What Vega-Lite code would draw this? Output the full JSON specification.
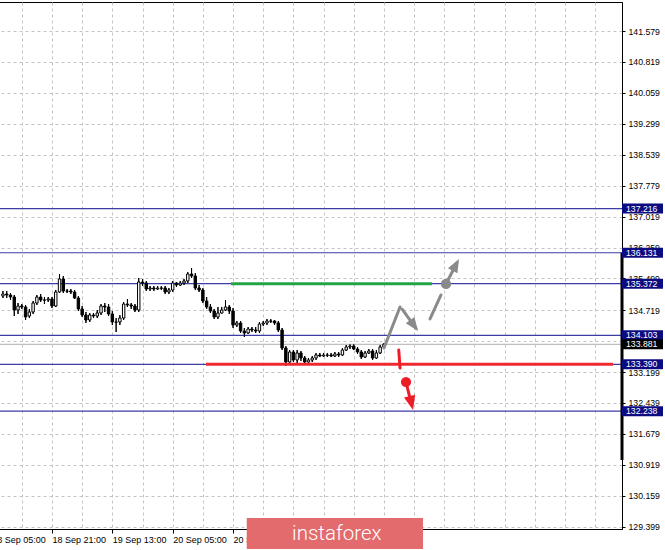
{
  "$schema": "https://vega.github.io/schema/vega-lite/v6.json",
  "width": 632,
  "height": 527,
  "autosize": {"type": "none"},
  "padding": {"left": -10, "top": 2, "right": 43, "bottom": 21},
  "background": "white",
  "config": {
    "view": {"stroke": "black", "strokeWidth": 1},
    "axis": {"titleOpacity": 0, "domainColor": "black", "tickColor": "black", "labelColor": "black", "labelOverlap": false}
  },
  "datasets": {
    "candles": [
      {"t":"2017-09-18T08:00Z","open":135.068,"high":135.191,"low":135.019,"close":135.117},
      {"t":"2017-09-18T09:00Z","open":135.117,"high":135.191,"low":135.019,"close":135.093},
      {"t":"2017-09-18T10:00Z","open":135.093,"high":135.142,"low":134.970,"close":135.043},
      {"t":"2017-09-18T11:00Z","open":135.043,"high":135.093,"low":134.577,"close":134.724},
      {"t":"2017-09-18T12:00Z","open":134.724,"high":134.896,"low":134.626,"close":134.822},
      {"t":"2017-09-18T13:00Z","open":134.822,"high":134.871,"low":134.749,"close":134.798},
      {"t":"2017-09-18T14:00Z","open":134.798,"high":134.847,"low":134.478,"close":134.552},
      {"t":"2017-09-18T15:00Z","open":134.577,"high":134.749,"low":134.527,"close":134.675},
      {"t":"2017-09-18T16:00Z","open":134.675,"high":134.945,"low":134.626,"close":134.896},
      {"t":"2017-09-18T17:00Z","open":134.896,"high":135.093,"low":134.847,"close":135.043},
      {"t":"2017-09-18T18:00Z","open":135.043,"high":135.117,"low":134.921,"close":134.970},
      {"t":"2017-09-18T19:00Z","open":134.970,"high":135.043,"low":134.871,"close":134.965},
      {"t":"2017-09-18T20:00Z","open":134.970,"high":135.043,"low":134.921,"close":134.994},
      {"t":"2017-09-18T21:00Z","open":134.994,"high":135.043,"low":134.773,"close":134.822},
      {"t":"2017-09-18T22:00Z","open":134.822,"high":135.215,"low":134.798,"close":135.166},
      {"t":"2017-09-18T23:00Z","open":135.166,"high":135.609,"low":135.142,"close":135.486},
      {"t":"2017-09-19T00:00Z","open":135.486,"high":135.559,"low":135.142,"close":135.191},
      {"t":"2017-09-19T01:00Z","open":135.191,"high":135.240,"low":135.142,"close":135.186},
      {"t":"2017-09-19T02:00Z","open":135.191,"high":135.240,"low":135.117,"close":135.166},
      {"t":"2017-09-19T03:00Z","open":135.166,"high":135.215,"low":134.994,"close":135.019},
      {"t":"2017-09-19T04:00Z","open":135.019,"high":135.068,"low":134.699,"close":134.749},
      {"t":"2017-09-19T05:00Z","open":134.749,"high":134.822,"low":134.552,"close":134.601},
      {"t":"2017-09-19T06:00Z","open":134.601,"high":134.675,"low":134.405,"close":134.478},
      {"t":"2017-09-19T07:00Z","open":134.478,"high":134.650,"low":134.429,"close":134.601},
      {"t":"2017-09-19T08:00Z","open":134.601,"high":134.650,"low":134.527,"close":134.577},
      {"t":"2017-09-19T09:00Z","open":134.577,"high":134.724,"low":134.527,"close":134.650},
      {"t":"2017-09-19T10:00Z","open":134.650,"high":134.871,"low":134.601,"close":134.822},
      {"t":"2017-09-19T11:00Z","open":134.822,"high":134.896,"low":134.675,"close":134.798},
      {"t":"2017-09-19T12:00Z","open":134.798,"high":134.871,"low":134.577,"close":134.626},
      {"t":"2017-09-19T13:00Z","open":134.626,"high":134.699,"low":134.355,"close":134.429},
      {"t":"2017-09-19T14:00Z","open":134.429,"high":134.527,"low":134.183,"close":134.424},
      {"t":"2017-09-19T15:00Z","open":134.429,"high":134.601,"low":134.355,"close":134.527},
      {"t":"2017-09-19T16:00Z","open":134.527,"high":134.921,"low":134.478,"close":134.871},
      {"t":"2017-09-19T17:00Z","open":134.871,"high":134.994,"low":134.798,"close":134.847},
      {"t":"2017-09-19T18:00Z","open":134.847,"high":134.896,"low":134.749,"close":134.822},
      {"t":"2017-09-19T19:00Z","open":134.822,"high":134.871,"low":134.675,"close":134.724},
      {"t":"2017-09-19T20:00Z","open":134.724,"high":135.510,"low":134.675,"close":135.412},
      {"t":"2017-09-19T21:00Z","open":135.412,"high":135.486,"low":135.314,"close":135.387},
      {"t":"2017-09-19T22:00Z","open":135.387,"high":135.437,"low":135.191,"close":135.240},
      {"t":"2017-09-19T23:00Z","open":135.240,"high":135.314,"low":135.191,"close":135.265},
      {"t":"2017-09-20T00:00Z","open":135.265,"high":135.314,"low":135.191,"close":135.240},
      {"t":"2017-09-20T01:00Z","open":135.240,"high":135.314,"low":135.215,"close":135.265},
      {"t":"2017-09-20T02:00Z","open":135.265,"high":135.314,"low":135.215,"close":135.260},
      {"t":"2017-09-20T03:00Z","open":135.265,"high":135.314,"low":135.117,"close":135.166},
      {"t":"2017-09-20T04:00Z","open":135.166,"high":135.265,"low":135.117,"close":135.215},
      {"t":"2017-09-20T05:00Z","open":135.215,"high":135.437,"low":135.166,"close":135.387},
      {"t":"2017-09-20T06:00Z","open":135.387,"high":135.412,"low":135.289,"close":135.338},
      {"t":"2017-09-20T07:00Z","open":135.338,"high":135.437,"low":135.314,"close":135.387},
      {"t":"2017-09-20T08:00Z","open":135.387,"high":135.486,"low":135.338,"close":135.437},
      {"t":"2017-09-20T09:00Z","open":135.437,"high":135.658,"low":135.387,"close":135.609},
      {"t":"2017-09-20T10:00Z","open":135.609,"high":135.756,"low":135.510,"close":135.559},
      {"t":"2017-09-20T11:00Z","open":135.559,"high":135.633,"low":135.215,"close":135.265},
      {"t":"2017-09-20T12:00Z","open":135.265,"high":135.338,"low":135.166,"close":135.215},
      {"t":"2017-09-20T13:00Z","open":135.215,"high":135.265,"low":134.896,"close":134.945},
      {"t":"2017-09-20T14:00Z","open":134.945,"high":135.043,"low":134.749,"close":134.798},
      {"t":"2017-09-20T15:00Z","open":134.798,"high":134.871,"low":134.650,"close":134.699},
      {"t":"2017-09-20T16:00Z","open":134.699,"high":134.749,"low":134.503,"close":134.552},
      {"t":"2017-09-20T17:00Z","open":134.552,"high":134.798,"low":134.503,"close":134.650},
      {"t":"2017-09-20T18:00Z","open":134.650,"high":134.798,"low":134.640,"close":134.724},
      {"t":"2017-09-20T19:00Z","open":134.724,"high":134.970,"low":134.699,"close":134.798},
      {"t":"2017-09-20T20:00Z","open":134.798,"high":134.847,"low":134.626,"close":134.699},
      {"t":"2017-09-20T21:00Z","open":134.699,"high":134.773,"low":134.282,"close":134.355},
      {"t":"2017-09-20T22:00Z","open":134.355,"high":134.454,"low":134.306,"close":134.405},
      {"t":"2017-09-20T23:00Z","open":134.405,"high":134.454,"low":134.159,"close":134.208},
      {"t":"2017-09-21T00:00Z","open":134.208,"high":134.282,"low":134.061,"close":134.159},
      {"t":"2017-09-21T01:00Z","open":134.159,"high":134.306,"low":134.134,"close":134.257},
      {"t":"2017-09-21T02:00Z","open":134.257,"high":134.306,"low":134.183,"close":134.233},
      {"t":"2017-09-21T03:00Z","open":134.233,"high":134.306,"low":134.159,"close":134.208},
      {"t":"2017-09-21T04:00Z","open":134.208,"high":134.429,"low":134.159,"close":134.380},
      {"t":"2017-09-21T05:00Z","open":134.380,"high":134.454,"low":134.331,"close":134.405},
      {"t":"2017-09-21T06:00Z","open":134.405,"high":134.503,"low":134.355,"close":134.454},
      {"t":"2017-09-21T07:00Z","open":134.454,"high":134.503,"low":134.405,"close":134.449},
      {"t":"2017-09-21T08:00Z","open":134.454,"high":134.478,"low":134.355,"close":134.405},
      {"t":"2017-09-21T09:00Z","open":134.405,"high":134.454,"low":134.183,"close":134.233},
      {"t":"2017-09-21T10:00Z","open":134.233,"high":134.282,"low":133.741,"close":133.790},
      {"t":"2017-09-21T11:00Z","open":133.790,"high":133.839,"low":133.348,"close":133.446},
      {"t":"2017-09-21T12:00Z","open":133.446,"high":133.741,"low":133.397,"close":133.692},
      {"t":"2017-09-21T13:00Z","open":133.692,"high":133.741,"low":133.446,"close":133.496},
      {"t":"2017-09-21T14:00Z","open":133.496,"high":133.741,"low":133.422,"close":133.668},
      {"t":"2017-09-21T15:00Z","open":133.668,"high":133.717,"low":133.471,"close":133.545},
      {"t":"2017-09-21T16:00Z","open":133.545,"high":133.594,"low":133.397,"close":133.446},
      {"t":"2017-09-21T17:00Z","open":133.446,"high":133.545,"low":133.397,"close":133.496},
      {"t":"2017-09-21T18:00Z","open":133.496,"high":133.594,"low":133.446,"close":133.545},
      {"t":"2017-09-21T19:00Z","open":133.545,"high":133.668,"low":133.496,"close":133.618},
      {"t":"2017-09-21T20:00Z","open":133.618,"high":133.668,"low":133.569,"close":133.594},
      {"t":"2017-09-21T21:00Z","open":133.594,"high":133.668,"low":133.569,"close":133.618},
      {"t":"2017-09-21T22:00Z","open":133.618,"high":133.668,"low":133.569,"close":133.613},
      {"t":"2017-09-21T23:00Z","open":133.618,"high":133.668,"low":133.569,"close":133.594},
      {"t":"2017-09-22T00:00Z","open":133.594,"high":133.692,"low":133.569,"close":133.643},
      {"t":"2017-09-22T01:00Z","open":133.643,"high":133.692,"low":133.569,"close":133.618},
      {"t":"2017-09-22T02:00Z","open":133.618,"high":133.790,"low":133.594,"close":133.741},
      {"t":"2017-09-22T03:00Z","open":133.741,"high":133.864,"low":133.717,"close":133.815},
      {"t":"2017-09-22T04:00Z","open":133.815,"high":133.889,"low":133.766,"close":133.839},
      {"t":"2017-09-22T05:00Z","open":133.839,"high":133.889,"low":133.741,"close":133.766},
      {"t":"2017-09-22T06:00Z","open":133.766,"high":133.815,"low":133.643,"close":133.692},
      {"t":"2017-09-22T07:00Z","open":133.692,"high":133.741,"low":133.520,"close":133.569},
      {"t":"2017-09-22T08:00Z","open":133.569,"high":133.717,"low":133.545,"close":133.668},
      {"t":"2017-09-22T09:00Z","open":133.668,"high":133.766,"low":133.643,"close":133.717},
      {"t":"2017-09-22T10:00Z","open":133.717,"high":133.766,"low":133.496,"close":133.545},
      {"t":"2017-09-22T11:00Z","open":133.545,"high":133.741,"low":133.520,"close":133.668},
      {"t":"2017-09-22T12:00Z","open":133.668,"high":133.864,"low":133.643,"close":133.815},
      {"t":"2017-09-22T13:00Z","open":133.815,"high":133.913,"low":133.790,"close":133.881}
    ],
    "levels": [
      {"price":137.216,"type":"level"},
      {"price":136.131,"type":"level"},
      {"price":135.372,"type":"level"},
      {"price":134.103,"type":"level"},
      {"price":133.390,"type":"level"},
      {"price":132.238,"type":"level"},
      {"price":133.881,"type":"bid"}
    ],
    "plan": [
      {"t1":"2017-09-20T20:28Z","t2":"2017-09-23T01:44Z","price":135.372,"side":"buy"},
      {"t1":"2017-09-20T13:50Z","t2":"2017-09-25T01:44Z","price":133.390,"side":"sell"}
    ],
    "shafts": [
      {"t1":"2017-09-22T13:01Z","p1":133.790,"t2":"2017-09-22T17:16Z","p2":134.798,"group":"up"},
      {"t1":"2017-09-22T17:47Z","p1":134.749,"t2":"2017-09-22T21:30Z","p2":134.270,"group":"up"},
      {"t1":"2017-09-23T01:13Z","p1":134.503,"t2":"2017-09-23T04:08Z","p2":135.093,"group":"up"},
      {"t1":"2017-09-23T05:27Z","p1":135.363,"t2":"2017-09-23T08:20Z","p2":135.880,"group":"up"},
      {"t1":"2017-09-22T16:56Z","p1":133.741,"t2":"2017-09-22T17:16Z","p2":133.299,"group":"down"},
      {"t1":"2017-09-22T18:51Z","p1":132.955,"t2":"2017-09-22T20:20Z","p2":132.400,"group":"down"}
    ],
    "dots": [
      {"t":"2017-09-23T05:27Z","price":135.363,"group":"up"},
      {"t":"2017-09-22T18:51Z","price":132.955,"group":"down"}
    ],
    "tips": [
      {"t":"2017-09-22T22:02Z","price":134.208,"id":"a"},
      {"t":"2017-09-23T08:54Z","price":135.977,"id":"b"},
      {"t":"2017-09-22T20:43Z","price":132.267,"id":"c"}
    ]
  },
  "layer": [
    {
      "data": {"name": "candles"},
      "mark": {"type": "rule", "color": "black", "strokeWidth": 1},
      "encoding": {
        "x": {
          "field": "t", "type": "temporal", "title": null,
          "scale": {"type": "utc", "padding": 0, "domain": [
            {"year": 2017, "month": 9, "date": 18, "hours": 4, "minutes": 34, "utc": true},
            {"year": 2017, "month": 9, "date": 25, "hours": 4, "minutes": 7, "utc": true}
          ]},
          "axis": {
            "values": [
              {"year":2017,"month":9,"date":18,"hours":5,"utc":true},
              {"year":2017,"month":9,"date":18,"hours":13,"utc":true},
              {"year":2017,"month":9,"date":18,"hours":21,"utc":true},
              {"year":2017,"month":9,"date":19,"hours":5,"utc":true},
              {"year":2017,"month":9,"date":19,"hours":13,"utc":true},
              {"year":2017,"month":9,"date":19,"hours":21,"utc":true},
              {"year":2017,"month":9,"date":20,"hours":5,"utc":true},
              {"year":2017,"month":9,"date":20,"hours":13,"utc":true},
              {"year":2017,"month":9,"date":20,"hours":21,"utc":true},
              {"year":2017,"month":9,"date":21,"hours":5,"utc":true},
              {"year":2017,"month":9,"date":21,"hours":13,"utc":true},
              {"year":2017,"month":9,"date":21,"hours":21,"utc":true},
              {"year":2017,"month":9,"date":22,"hours":5,"utc":true},
              {"year":2017,"month":9,"date":22,"hours":13,"utc":true},
              {"year":2017,"month":9,"date":22,"hours":21,"utc":true},
              {"year":2017,"month":9,"date":23,"hours":5,"utc":true},
              {"year":2017,"month":9,"date":23,"hours":13,"utc":true},
              {"year":2017,"month":9,"date":23,"hours":21,"utc":true},
              {"year":2017,"month":9,"date":24,"hours":5,"utc":true},
              {"year":2017,"month":9,"date":24,"hours":13,"utc":true},
              {"year":2017,"month":9,"date":24,"hours":21,"utc":true}
            ],
            "tickCount": 60,
            "grid": true, "gridColor": "#c4c4c4", "gridDash": [3, 3], "gridWidth": 1,
            "tickSize": 4,
            "tickOpacity": {"condition": {"test": "(datum.value - utc(2017,8,18,5)) % 57600000 == 0 && datum.value <= utc(2017,8,22,5)", "value": 1}, "value": 0},
            "labelExpr": "(datum.value - utc(2017,8,18,5)) % 57600000 == 0 && datum.value <= utc(2017,8,22,5) ? utcFormat(datum.value, '%d %b %H:%M') : ''",
            "labelAlign": "left", "labelBaseline": "top", "labelPadding": 2,
            "labelFlush": false, "labelOverlap": false,
            "labelFont": "Liberation Sans Narrow, Liberation Sans", "labelFontSize": 9
          }
        },
        "y": {
          "field": "low", "type": "quantitative", "title": null,
          "scale": {"domain": [129.343, 142.292], "nice": false, "zero": false, "padding": 0},
          "axis": {
            "orient": "right",
            "values": [129.399, 130.159, 130.919, 131.679, 132.439, 133.199, 133.959, 134.719, 135.499, 136.259, 137.019, 137.779, 138.539, 139.299, 140.059, 140.819, 141.579],
            "tickCount": 60,
            "format": ".3f",
            "grid": true, "gridColor": "#c4c4c4", "gridDash": [3, 3], "gridWidth": 1,
            "tickSize": 3, "labelPadding": 3, "labelOverlap": false, "labelFlush": false,
            "labelFont": "Liberation Sans", "labelFontSize": 8.7, "labelBaseline": "middle"
          }
        },
        "y2": {"field": "high"}
      }
    },
    {
      "data": {"name": "levels"},
      "mark": {"type": "rule", "strokeWidth": 1.2},
      "encoding": {
        "y": {"field": "price", "type": "quantitative"},
        "color": {"condition": {"test": "datum.type == 'bid'", "value": "#c0c0c0"}, "value": "#3c3ca8"}
      }
    },
    {
      "data": {"name": "candles"},
      "mark": {"type": "rule", "color": "black", "strokeWidth": 1},
      "encoding": {
        "x": {"field": "t", "type": "temporal"},
        "y": {"field": "low", "type": "quantitative"},
        "y2": {"field": "high"}
      }
    },
    {
      "data": {"name": "candles"},
      "mark": {"type": "bar", "size": 2.4, "stroke": "black", "strokeWidth": 1},
      "encoding": {
        "x": {"field": "t", "type": "temporal"},
        "y": {"field": "open", "type": "quantitative"},
        "y2": {"field": "close"},
        "fill": {"condition": {"test": "datum.close >= datum.open", "value": "white"}, "value": "black"}
      }
    },
    {
      "data": {"name": "plan"},
      "mark": {"type": "rule", "strokeWidth": 3},
      "encoding": {
        "x": {"field": "t1", "type": "temporal"},
        "x2": {"field": "t2"},
        "y": {"field": "price", "type": "quantitative"},
        "color": {"condition": {"test": "datum.side == 'buy'", "value": "#22a447"}, "value": "#ef2a2e"}
      }
    },
    {
      "data": {"name": "shafts"},
      "mark": {"type": "rule", "strokeWidth": 3, "strokeCap": "round"},
      "encoding": {
        "x": {"field": "t1", "type": "temporal"},
        "x2": {"field": "t2"},
        "y": {"field": "p1", "type": "quantitative"},
        "y2": {"field": "p2"},
        "color": {"condition": {"test": "datum.group == 'down'", "value": "#ee1c25"}, "value": "#8a8a8a"}
      }
    },
    {
      "data": {"name": "dots"},
      "mark": {"type": "point", "shape": "circle", "filled": true, "size": 105, "opacity": 1},
      "encoding": {
        "x": {"field": "t", "type": "temporal"},
        "y": {"field": "price", "type": "quantitative"},
        "color": {"condition": {"test": "datum.group == 'down'", "value": "#ee1c25"}, "value": "#8a8a8a"}
      }
    },
    {
      "data": {"name": "tips"},
      "transform": [{"filter": "datum.id == 'a'"}],
      "mark": {"type": "point", "shape": "M0,0 L0.4,1 L-0.4,1 Z", "filled": true, "size": 720, "angle": 144, "color": "#8a8a8a", "opacity": 1},
      "encoding": {
        "x": {"field": "t", "type": "temporal"},
        "y": {"field": "price", "type": "quantitative"}
      }
    },
    {
      "data": {"name": "tips"},
      "transform": [{"filter": "datum.id == 'b'"}],
      "mark": {"type": "point", "shape": "M0,0 L0.4,1 L-0.4,1 Z", "filled": true, "size": 720, "angle": 28, "color": "#8a8a8a", "opacity": 1},
      "encoding": {
        "x": {"field": "t", "type": "temporal"},
        "y": {"field": "price", "type": "quantitative"}
      }
    },
    {
      "data": {"name": "tips"},
      "transform": [{"filter": "datum.id == 'c'"}],
      "mark": {"type": "point", "shape": "M0,0 L0.4,1 L-0.4,1 Z", "filled": true, "size": 820, "angle": 166, "color": "#ee1c25", "opacity": 1},
      "encoding": {
        "x": {"field": "t", "type": "temporal"},
        "y": {"field": "price", "type": "quantitative"}
      }
    },
    {
      "data": {"values": [{}]},
      "mark": {"type": "rule", "color": "black", "strokeWidth": 3},
      "encoding": {
        "x": {"datum": {"year": 2017, "month": 9, "date": 25, "hours": 4, "minutes": 7, "utc": true}, "type": "temporal"},
        "y": {"datum": 136.131, "type": "quantitative"},
        "y2": {"datum": 131.039}
      }
    },
    {
      "data": {"name": "levels"},
      "mark": {"type": "tick", "orient": "horizontal", "size": 41, "thickness": 10, "xOffset": 20.5, "opacity": 1},
      "encoding": {
        "x": {"datum": {"year": 2017, "month": 9, "date": 25, "hours": 4, "minutes": 7, "utc": true}, "type": "temporal"},
        "y": {"field": "price", "type": "quantitative"},
        "color": {"condition": {"test": "datum.type == 'bid'", "value": "#000000"}, "value": "#0b0b82"}
      }
    },
    {
      "data": {"name": "levels"},
      "mark": {"type": "text", "align": "left", "baseline": "middle", "dx": 4, "font": "Liberation Sans", "fontSize": 8.7, "color": "white"},
      "encoding": {
        "x": {"datum": {"year": 2017, "month": 9, "date": 25, "hours": 4, "minutes": 7, "utc": true}, "type": "temporal"},
        "y": {"field": "price", "type": "quantitative"},
        "text": {"field": "price", "type": "quantitative", "format": ".3f"}
      }
    },
    {
      "data": {"values": [{}]},
      "mark": {"type": "rect", "color": "#e36b6d", "opacity": 1},
      "encoding": {
        "x": {"datum": {"year": 2017, "month": 9, "date": 21, "hours": 0, "minutes": 38, "utc": true}, "type": "temporal"},
        "x2": {"datum": {"year": 2017, "month": 9, "date": 22, "hours": 23, "minutes": 22, "utc": true}},
        "y": {"datum": 129.613, "type": "quantitative"},
        "y2": {"datum": 128.852}
      }
    },
    {
      "data": {"values": [{}]},
      "mark": {"type": "text", "text": "instaforex", "font": "Roboto", "fontWeight": 300, "fontSize": 20.5, "color": "white", "align": "center", "baseline": "middle"},
      "encoding": {
        "x": {"datum": {"year": 2017, "month": 9, "date": 22, "hours": 0, "minutes": 30, "utc": true}, "type": "temporal"},
        "y": {"datum": 129.22, "type": "quantitative"}
      }
    }
  ]
}
